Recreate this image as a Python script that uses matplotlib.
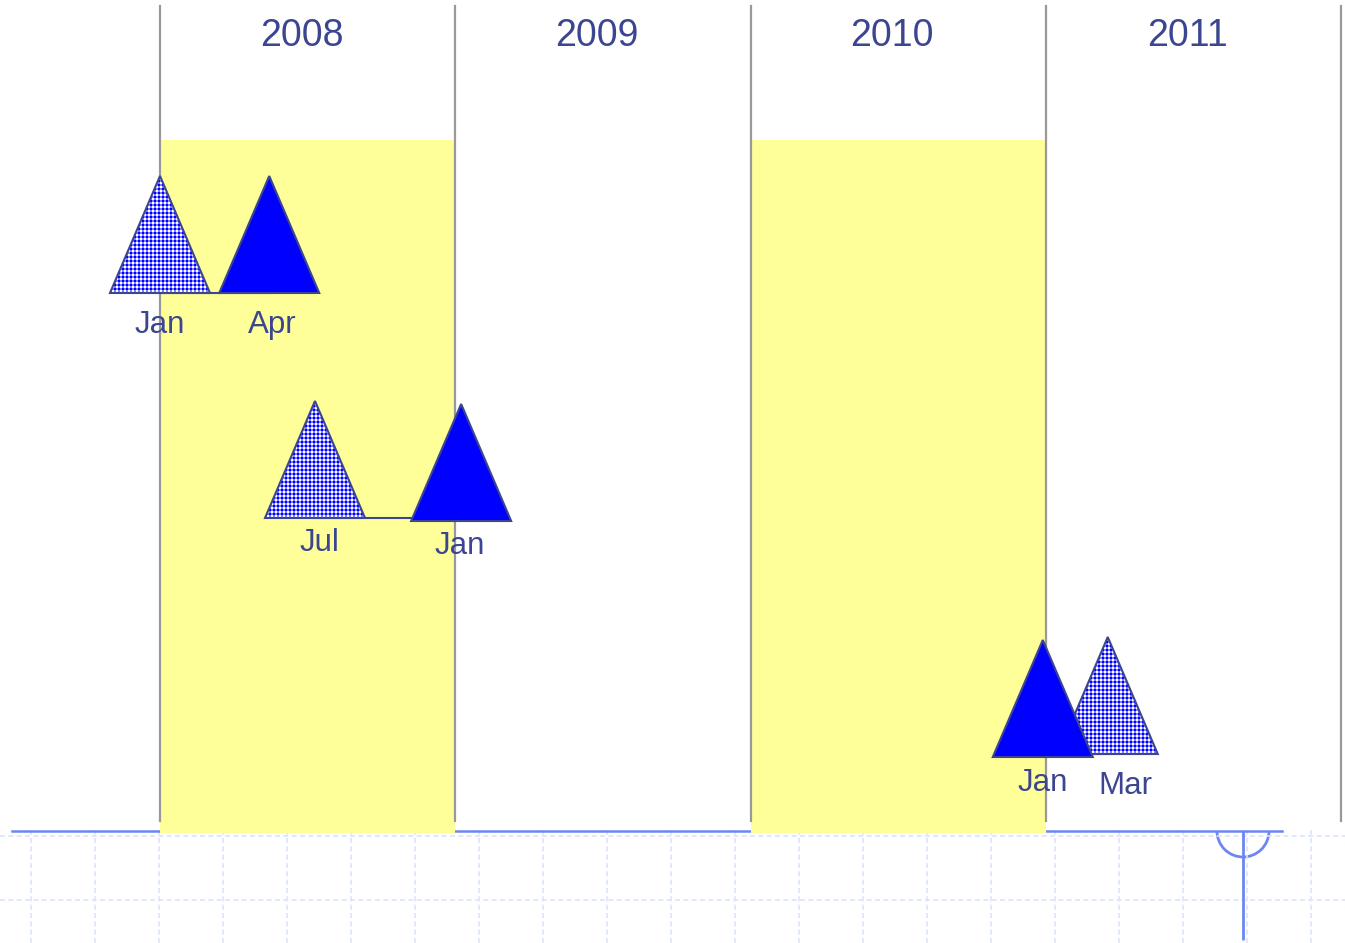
import numpy as np
import matplotlib
matplotlib.use("Agg")
import matplotlib.pyplot as plt
from matplotlib.patches import Polygon, Rectangle, Arc
from matplotlib.colors import ListedColormap

plt.rcParams['font.family'] = ['Liberation Sans', 'DejaVu Sans']

# ---- data ----
years = ['2008', '2009', '2010', '2011']
year_starts = [2008, 2009, 2010, 2011]
year_shaded = [True, False, True, False]

event_labels = ['Jan', 'Apr', 'Jul', 'Jan', 'Jan', 'Mar']
event_x = [2008.0, 2008.37, 2008.525, 2009.02, 2010.99, 2011.21]
event_base = [2.93, 2.93, 5.18, 5.21, 7.57, 7.54]
event_style = ['checked', 'solid', 'checked', 'solid', 'solid', 'checked']
label_shift = [0.0, 0.01, 0.015, -0.005, 0.0, 0.06]
label_dy = [0.32, 0.32, 0.25, 0.25, 0.26, 0.32]
pairs = [(0, 1), (2, 3), (4, 5)]

TEXT = '#3c4590'
EDGE = '#3c4590'
BLUE = '#0000ff'
YELLOW = '#ffff99'
LINE = '#6e86f2'
GRID = '#dde4fb'

W, H = 1345, 943
fig = plt.figure(figsize=(W / 100, H / 100), dpi=100)

# bottom grid panel (pixel units)
gb_top = 830
axb = fig.add_axes([0, 0, 1, (H - gb_top) / H])
axb.set_xlim(0, W)
axb.set_ylim(H, gb_top)
axb.set_xticks(np.arange(31, W, 64))
axb.set_yticks([836, 900])
axb.grid(True, color=GRID, linestyle=(0, (3, 2)), linewidth=1.2)
axb.tick_params(length=0, labelbottom=False, labelleft=False)
for s in axb.spines.values():
    s.set_visible(False)
axb.set_zorder(0)
# anchor symbol
axb.add_patch(Arc((1243, 831), 52, 52, theta1=0, theta2=180, color=LINE, lw=2))
axb.plot([1243, 1243], [831, 940], color=LINE, lw=2, solid_capstyle='butt')

# main timeline axes
px_per_year = 295.25
x0 = 2008 - 160 / px_per_year
x1 = x0 + W / px_per_year
ax = fig.add_axes([0, 0, 1, 1])
ax.set_xlim(x0, x1)
ax.set_ylim(H / 100, 0)
ax.axis('off')
ax.patch.set_alpha(0)
ax.set_zorder(1)

# baseline
ax.plot([x0 + 12 / px_per_year, x0 + 1282 / px_per_year], [8.31, 8.31],
        color=LINE, lw=1.8, zorder=1)

# shaded years
for ys, sh in zip(year_starts, year_shaded):
    if sh:
        ax.add_patch(Rectangle((ys, 1.40), 1, 8.33 - 1.40, facecolor=YELLOW,
                               edgecolor='none', zorder=2))

# vertical year separators
bounds = year_starts + [year_starts[-1] + 1]
for b in bounds:
    ax.plot([b, b], [0.06, 8.21], color='#999999', lw=1.6, zorder=3)

# year labels
for ys, lab in zip(year_starts, years):
    ax.text(ys + 0.48, 0.355, lab, ha='center', va='center', fontsize=27,
            color=TEXT, zorder=5)

# connecting lines (horizontal, hidden beneath the triangles where they overlap)
for a, b in pairs:
    yl = min(event_base[a], event_base[b])
    ax.plot([event_x[a], event_x[b]], [yl, yl], color=EDGE, lw=1.5, zorder=4)

half_w = 50 / px_per_year
tri_h = 1.17

# small dotted-check texture (pixel aligned)
yy, xx = np.mgrid[0:117, 0:100]
bx = (xx % 4) < 2
by = (yy % 4) < 2
texture = np.where(bx & by, 2, np.where(bx | by, 1, 0)).astype(float)
cmap = ListedColormap(['#ffffff', '#8080ff', BLUE])

order = [i for i in range(len(event_x)) if event_style[i] == 'checked'] + \
        [i for i in range(len(event_x)) if event_style[i] == 'solid']
z = 6
for i in order:
    cx, base = event_x[i], event_base[i]
    verts = [(cx - half_w, base), (cx + half_w, base), (cx, base - tri_h)]
    if event_style[i] == 'solid':
        ax.add_patch(Polygon(verts, closed=True, facecolor=BLUE, edgecolor=EDGE,
                             lw=1.5, zorder=z))
    else:
        clip = Polygon(verts, closed=True, facecolor='none', edgecolor='none',
                       transform=ax.transData)
        im = ax.imshow(texture, cmap=cmap, vmin=0, vmax=2,
                       interpolation='nearest',
                       extent=(cx - half_w, cx + half_w, base, base - tri_h),
                       aspect='auto', zorder=z)
        im.set_clip_path(clip)
        ax.add_patch(Polygon(verts, closed=True, facecolor='none',
                             edgecolor=EDGE, lw=1.5, zorder=z + 0.5))
    z += 1
    ax.text(cx + label_shift[i], base + label_dy[i], event_labels[i],
            ha='center', va='center', fontsize=22.5, color=TEXT, zorder=20)

ax.set_xlim(x0, x1)
ax.set_ylim(H / 100, 0)

fig.savefig('out.png', dpi=100)
